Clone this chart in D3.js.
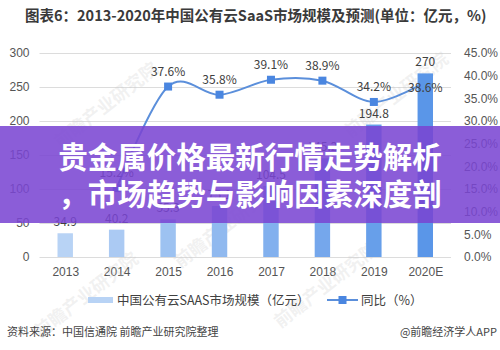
<!DOCTYPE html>
<html>
<head>
<meta charset="utf-8">
<script src="https://cdn.jsdelivr.net/npm/d3@7"></script>
<style>
body{margin:0;background:#fff;}
svg{display:block;font-family:"Noto Sans CJK SC","Noto Sans",sans-serif;}
</style>
</head>
<body>
<div id="chart"></div>
<script>
// 데이터
var years = ["2013","2014","2015","2016","2017","2018","2019","2020E"];
var market = [34.9, 40.2, 55.3, 75.1, 104.5, 145.2, 194.8, 270];
var growth = [null, 15.2, 37.6, 35.8, 39.1, 38.9, 34.2, 38.6];
var leftTicks = [0, 50, 100, 150, 200, 250, 300];
var rightTicks = [0, 5, 10, 15, 20, 25, 30, 35, 40, 45];

var width = 500, height = 350;
var plot = {left: 39.5, right: 451, top: 53, bottom: 257};

var svg = d3.select("#chart").append("svg")
    .attr("width", width)
    .attr("height", height);

var x = d3.scalePoint().domain(years).range([plot.left, plot.right]).padding(0.5);
var barW = x.step() * 0.3;
var y = d3.scaleLinear().domain([0, 300]).range([plot.bottom, plot.top]);
var y2 = d3.scaleLinear().domain([0, 45]).range([plot.bottom, plot.top]);

var barColor = d3.interpolateRgb("#b8d3f5", "#5a96e8");

// title
svg.append("text")
    .attr("x", 25).attr("y", 21)
    .style("font-size", "14.5px")
    .style("font-weight", "bold")
    .style("fill", "#3a3a3a")
    .text("图表6：2013-2020年中国公有云SaaS市场规模及预测(单位：亿元，%)");

// grid + left axis
var gLeft = svg.append("g")
    .attr("transform", "translate(" + plot.left + ",0)")
    .call(d3.axisLeft(y).tickValues(leftTicks).tickSize(-(plot.right - plot.left)).tickPadding(10));
gLeft.select(".domain").remove();
gLeft.selectAll("line").attr("stroke", "#dcdcdc");
gLeft.selectAll("text").style("font-size", "12px").style("fill", "#555").style("font-family", "inherit");

var gRight = svg.append("g")
    .attr("transform", "translate(" + (plot.right + 10) + ",0)")
    .call(d3.axisRight(y2).tickValues(rightTicks).tickSize(0).tickFormat(function(d){ return d.toFixed(1) + "%"; }));
gRight.select(".domain").remove();
gRight.selectAll("text").style("font-size", "12px").style("fill", "#555").style("font-family", "inherit");

var gX = svg.append("g")
    .attr("transform", "translate(0," + plot.bottom + ")")
    .call(d3.axisBottom(x).tickSize(0).tickPadding(10));
gX.select(".domain").remove();
gX.selectAll("text").style("font-size", "12px").style("fill", "#555").style("font-family", "inherit");

// watermark
var wm = [[110, 110], [90, 300], [400, 100], [330, 290], [230, 230]];
svg.selectAll(".wm").data(wm).enter().append("text")
    .attr("class", "wm")
    .attr("transform", function(d){ return "translate(" + d[0] + "," + d[1] + ") rotate(-38)"; })
    .attr("text-anchor", "middle")
    .style("font-size", "18px")
    .style("font-weight", "bold")
    .style("fill", "#c8c8c8")
    .style("fill-opacity", 0.25)
    .text("前瞻产业研究院");

// line
var pts = years.map(function(d, i){ return {year: d, v: growth[i]}; }).filter(function(d){ return d.v != null; });
var line = d3.line()
    .x(function(d){ return x(d.year); })
    .y(function(d){ return y2(d.v); })
    .curve(d3.curveCatmullRom.alpha(0));

svg.append("path")
    .datum(pts)
    .attr("fill", "none")
    .attr("stroke", "#5b8fdb")
    .attr("stroke-width", 2)
    .attr("d", line);

svg.selectAll(".dot").data(pts).enter().append("rect")
    .attr("class", "dot")
    .attr("x", function(d){ return x(d.year) - 4; })
    .attr("y", function(d){ return y2(d.v) - 4; })
    .attr("width", 8).attr("height", 8)
    .style("fill", "#4a86e0");

// bars
svg.selectAll(".bar").data(market).enter().append("rect")
    .attr("class", "bar")
    .attr("x", function(d, i){ return x(years[i]) - barW / 2; })
    .attr("y", function(d){ return y(d); })
    .attr("width", barW)
    .attr("height", function(d){ return plot.bottom - y(d); })
    .style("fill", function(d, i){ return barColor(i / (years.length - 1)); });

svg.selectAll(".barLabel").data(market).enter().append("text")
    .attr("class", "barLabel")
    .attr("x", function(d, i){ return x(years[i]); })
    .attr("y", function(d){ return y(d) - 7; })
    .attr("text-anchor", "middle")
    .style("font-size", "12px")
    .style("fill", "#404040")
    .text(function(d){ return d; });

svg.selectAll(".lineLabel").data(pts).enter().append("text")
    .attr("class", "lineLabel")
    .attr("x", function(d){ return x(d.year); })
    .attr("y", function(d){ return d.year == "2020E" ? y2(d.v) + 10 : y2(d.v) - 11; })
    .attr("text-anchor", "middle")
    .style("font-size", "12px")
    .style("fill", "#404040")
    .text(function(d){ return d.v.toFixed(1) + "%"; });

// legend
var legend = svg.append("g").attr("transform", "translate(0,300)");
legend.append("rect")
    .attr("x", 88).attr("y", -3).attr("width", 25).attr("height", 6)
    .style("fill", "#b8d3f5");
legend.append("text")
    .attr("x", 117).attr("y", 5)
    .style("font-size", "12.5px").style("fill", "#404040")
    .text("中国公有云SAAS市场规模（亿元）");
legend.append("path")
    .attr("d", d3.line()([[327, 0], [358, 0]]))
    .attr("stroke", "#5b8fdb").attr("stroke-width", 2);
legend.append("rect")
    .attr("x", 338.5).attr("y", -4).attr("width", 8).attr("height", 8)
    .style("fill", "#4a86e0");
legend.append("text")
    .attr("x", 361).attr("y", 5)
    .style("font-size", "12.5px").style("fill", "#404040")
    .text("同比（%）");

// source
svg.append("text")
    .attr("x", 7).attr("y", 336)
    .style("font-size", "11px").style("fill", "#444")
    .text("资料来源：中国信通院 前瞻产业研究院整理");
svg.append("text")
    .attr("x", 497).attr("y", 336)
    .attr("text-anchor", "end")
    .style("font-size", "11px").style("fill", "#444")
    .text("@前瞻经济学人APP");

// banner
svg.append("rect")
    .attr("x", 0).attr("y", 126)
    .attr("width", width).attr("height", 97)
    .style("fill", "#7a45d2")
    .style("fill-opacity", 0.87);

var bannerLines = ["贵金属价格最新行情走势解析", "，市场趋势与影响因素深度剖"];
svg.selectAll(".banner").data(bannerLines).enter().append("text")
    .attr("class", "banner")
    .attr("x", 250)
    .attr("y", function(d, i){ return 168 + i * 37; })
    .attr("text-anchor", "middle")
    .style("font-size", "29.5px")
    .style("font-weight", "bold")
    .style("fill", "#fff")
    .text(function(d){ return d; });
</script>
</body>
</html>
